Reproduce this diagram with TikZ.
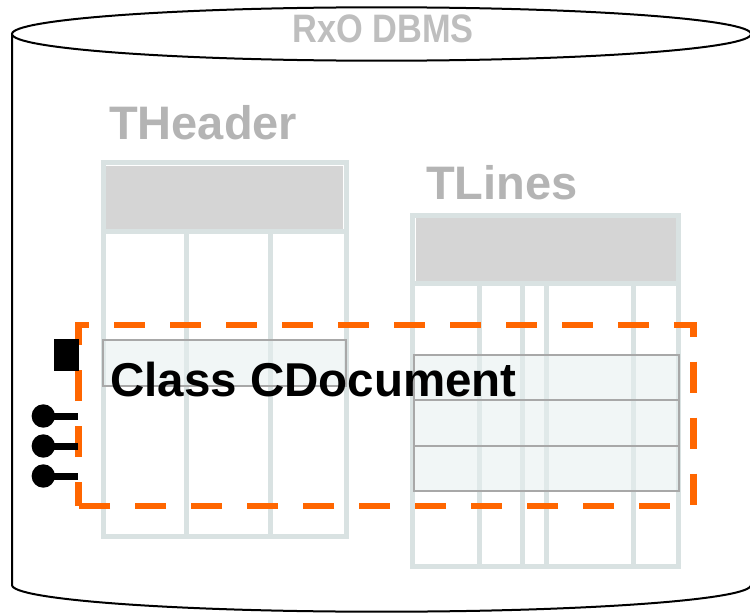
\documentclass[tikz,border=0pt]{standalone}
\usepackage{fontspec}
\setmainfont{Liberation Sans}
\definecolor{tblline}{HTML}{D9E2E2}
\definecolor{tblhead}{HTML}{D5D5D5}
\definecolor{rowfill}{HTML}{E6F0F0}
\definecolor{rowline}{HTML}{A8A8A8}
\definecolor{labelgray}{HTML}{B4B4B4}
\definecolor{dbgray}{HTML}{BEBEBE}
\definecolor{selorange}{HTML}{FF6600}
\tikzset{
  tbl/.style={draw=tblline, line width=5pt},
  tblhdr/.style={fill=tblhead},
  selrow/.style={draw=rowline, line width=1.8pt, fill=rowfill, fill opacity=0.55},
  tabletitle/.style={inner sep=0pt, anchor=base west, text=labelgray,
    font=\fontsize{47}{52}\selectfont\bfseries},
  classtitle/.style={inner sep=0pt, anchor=base west, text=black,
    font=\fontsize{47.5}{52}\selectfont\bfseries},
  selection/.style={draw=selorange, line width=6.5pt, dash pattern=on 31pt off 25pt, dash phase=7pt},
  port/.style={circle, fill=black, inner sep=0pt, minimum size=23.4pt},
  portbar/.style={line width=7pt},
}
\begin{document}
\begin{tikzpicture}[x=1pt,y=-1pt]
\useasboundingbox (0,0) rectangle (750,613);

% database cylinder
\draw[line width=2pt, fill=white] (12,34) -- (12,585)
  arc[start angle=180, end angle=0, x radius=369.5, y radius=26.7] -- (751,34);
\draw[line width=2pt, fill=white] (381.5,34) ellipse [x radius=369.5, y radius=26.7];
\node[inner sep=0pt, anchor=base, text=dbgray, font=\fontsize{39.7}{44}\selectfont\bfseries]
  (dbms) at (383.3,42.7) {\scalebox{0.865}[1]{RxO DBMS}};

% table THeader
\fill[tblhdr] (106,166) rectangle (343,229);
\draw[tbl] (103.5,162.5) rectangle (346.5,536.5);
\draw[tbl] (103.5,231.5) -- (346.5,231.5);
\foreach \cx in {186.8,270.2} \draw[tbl] (\cx,231.5) -- (\cx,536.5);
\node[tabletitle] (theader) at (109,139) {THeader};

% table TLines
\fill[tblhdr] (415.7,217.7) rectangle (676,280.7);
\draw[tbl] (412.8,215) rectangle (678.9,566.8);
\draw[tbl] (412.8,283.3) -- (678.9,283.3);
\foreach \cx in {479.5,522.8,546.5,633.2} \draw[tbl] (\cx,283.3) -- (\cx,566.8);
\node[tabletitle] (tlines) at (426,199) {TLines};

% rows belonging to the document
\draw[selrow] (103,340) rectangle (346,386);
\draw[selrow] (414.3,355) rectangle (679,491);
\draw[rowline, line width=1.8pt] (414.3,400.3) -- (679,400.3);
\draw[rowline, line width=1.8pt] (414.3,445.7) -- (679,445.7);

\node[classtitle] (cdoc) at (110,396.7) {Class CDocument};

% class boundary
\draw[selection] (78.3,506) -- (78.3,325) -- (693.7,325) -- (693.7,506) -- cycle;

% class interface: one square and three lollipops
\fill (54.3,339.3) rectangle (79.3,371);
\node[port] (p1) at (43.3,416) {};
\node[port] (p2) at (43.3,446) {};
\node[port] (p3) at (43.3,476) {};
\coordinate (e1) at (78.3,416);
\coordinate (e2) at (78.3,446);
\coordinate (e3) at (78.3,476);
\draw[portbar] (p1.center) -- (e1);
\draw[portbar] (p2.center) -- (e2);
\draw[portbar] (p3.center) -- (e3);
\end{tikzpicture}
\end{document}
